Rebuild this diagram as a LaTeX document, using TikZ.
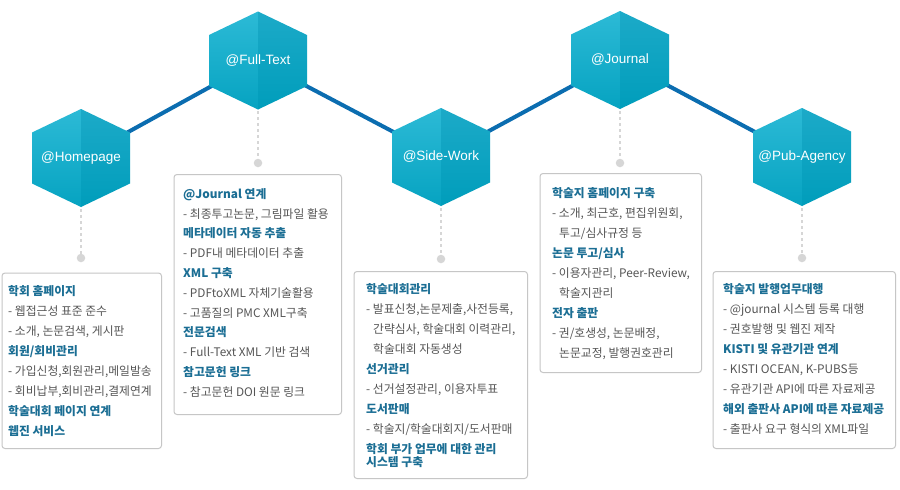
\documentclass[tikz,border=0pt]{standalone}
\usepackage{fontspec}
\setmainfont{Noto Sans CJK KR}
\newfontfamily\hexfont{Liberation Sans}
\definecolor{hexTL}{HTML}{2CBAD6}
\definecolor{hexBL}{HTML}{06A3C1}
\definecolor{hexTR}{HTML}{1CAAC8}
\definecolor{hexBR}{HTML}{009DBB}
\definecolor{linkc}{HTML}{0B6DB0}
\definecolor{dotc}{HTML}{D6D6D6}
\definecolor{boxc}{HTML}{C6C6C6}
\definecolor{headc}{HTML}{1B6E94}
\definecolor{itemc}{HTML}{555555}
\newcommand{\hexagonat}[1]{%
  \begin{scope}[shift={(#1)}]
    \shade[top color=hexTL,bottom color=hexBL] (0,-49) -- (-49,-25.5) -- (-49,25.5) -- (0,49) -- cycle;
    \shade[top color=hexTR,bottom color=hexBR] (0,-49) -- (49,-25.5) -- (49,25.5) -- (0,49) -- cycle;
  \end{scope}}
\newcommand{\hd}[1]{{\color{headc}\bfseries #1}}
\newcommand{\ind}{\hspace*{7pt}}
\tikzset{
  link/.style={draw=linkc,line width=4pt},
  dots/.style={draw=dotc,line width=2.7pt,dash pattern=on 2.7pt off 3.3pt},
  enddot/.style={circle,fill=dotc,inner sep=0pt,minimum size=8.5pt},
  hexlabel/.style={text=white,font=\hexfont\fontsize{13.5}{16}\selectfont,inner sep=0pt},
  infobox/.style={draw=boxc,line width=1pt,fill=white,rounded corners=3pt,anchor=north west,inner sep=0pt},
  infotext/.style={anchor=north west,inner sep=0pt,align=left,text=itemc,font=\fontsize{11.8}{20}\selectfont}
}
\begin{document}
\begin{tikzpicture}[x=1pt,y=-1pt]
\useasboundingbox[fill=white] (0,0) rectangle (900,490);
% hexagon centres
\coordinate (hp) at (81,158);
\coordinate (ft) at (258,60.5);
\coordinate (sw) at (441,157);
\coordinate (jn) at (620,60);
\coordinate (pa) at (802,157);
% main connector
\draw[link] (hp) -- (ft) -- (sw) -- (jn) -- (pa);
% hexagons
\hexagonat{hp}\hexagonat{ft}\hexagonat{sw}\hexagonat{jn}\hexagonat{pa}
\node[hexlabel] (hpL) at (hp) {@Homepage};
\node[hexlabel] (ftL) at (ft) {@Full-Text};
\node[hexlabel] (swL) at (sw) {@Side-Work};
\node[hexlabel] (jnL) at (jn) {@Journal};
\node[hexlabel] (paL) at (pa) {@Pub-Agency};
% dotted drops
\coordinate (hpt) at (81,209);   \node[enddot] (hpd) at (81,258) {};
\coordinate (ftt) at (258,111);  \node[enddot] (ftd) at (258,163) {};
\coordinate (swt) at (441,208);  \node[enddot] (swd) at (441,259) {};
\coordinate (jnt) at (620,111);  \node[enddot] (jnd) at (620,163) {};
\coordinate (pat) at (802,208);  \node[enddot] (pad) at (802,258) {};
\draw[dots] (hpt) -- (hpd.center);
\draw[dots] (ftt) -- (ftd.center);
\draw[dots] (swt) -- (swd.center);
\draw[dots] (jnt) -- (jnd.center);
\draw[dots] (pat) -- (pad.center);
% boxes
\node[infobox,minimum width=159.5pt,minimum height=175.5pt] (hpB) at (1.5,272.5) {};
\node[infobox,minimum width=167.5pt,minimum height=240pt] (ftB) at (173.5,174) {};
\node[infobox,minimum width=173.5pt,minimum height=207pt] (swB) at (353.5,271) {};
\node[infobox,minimum width=161.5pt,minimum height=199pt] (jnB) at (539.5,173) {};
\node[infobox,minimum width=182.5pt,minimum height=177pt] (paB) at (712.5,271) {};
% texts
\node[infotext] (hpT) at (8,285.2) {%
\hd{학회 홈페이지}\\
- 웹접근성 표준 준수\\
- 소개, 논문검색, 게시판\\
\hd{회원/회비관리}\\
- 가입신청,회원관리,메일발송\\
- 회비납부,회비관리,결제연계\\
\hd{학술대회 페이지 연계}\\
\hd{웹진 서비스}};
\node[infotext,font=\fontsize{11.8}{19.8}\selectfont] (ftT) at (183,188.2) {%
\hd{@Journal 연계}\\
- 최종투고논문, 그림파일 활용\\
\hd{메타데이터 자동 추출}\\
- PDF내 메타데이터 추출\\
\hd{XML 구축}\\
- PDFtoXML 자체기술활용\\
- 고품질의 PMC XML구축\\
\hd{전문검색}\\
- Full-Text XML 기반 검색\\
\hd{참고문헌 링크}\\
- 참고문헌 DOI 원문 링크};
\node[infotext] (swT) at (366,283.2) {%
\hd{학술대회관리}\\
- 발표신청,논문제출,사전등록,\\
\ind 간략심사, 학술대회 이력관리,\\
\ind 학술대회 자동생성\\
\hd{선거관리}\\
- 선거설정관리, 이용자투표\\
\hd{도서판매}\\
- 학술지/학술대회지/도서판매\\
\hd{학회 부가 업무에 대한 관리}\\[-7pt]
\hd{시스템 구축}};
\node[infotext] (jnT) at (552,187.2) {%
\hd{학술지 홈페이지 구축}\\
- 소개, 최근호, 편집위원회,\\
\ind 투고/심사규정 등\\
\hd{논문 투고/심사}\\
- 이용자관리, Peer-Review,\\
\ind 학술지관리\\
\hd{전자 출판}\\
- 권/호생성, 논문배정,\\
\ind 논문교정, 발행권호관리};
\node[infotext] (paT) at (723,283.2) {%
\hd{학술지 발행업무대행}\\
- @journal 시스템 등록 대행\\
- 권호발행 및 웹진 제작\\
\hd{KISTI 및 유관기관 연계}\\
- KISTI OCEAN, K-PUBS등\\
- 유관기관 API에 따른 자료제공\\
\hd{해외 출판사 API에 따른 자료제공}\\
- 출판사 요구 형식의 XML파일};
\end{tikzpicture}
\end{document}
